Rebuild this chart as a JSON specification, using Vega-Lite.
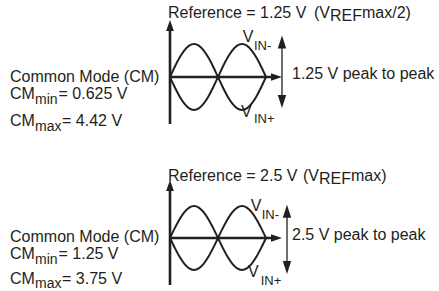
{
  "$schema": "https://vega.github.io/schema/vega-lite/v6.json",
  "padding": 0,
  "spacing": 0,
  "bounds": "flush",
  "config": {
    "view": {"stroke": null},
    "text": {"font": "Liberation Sans", "color": "#231f20", "align": "left", "baseline": "alphabetic"}
  },
  "datasets": {
    "curves": [
      {"panel": 1, "series": "VIN+", "t": 0.0, "v": 0},
      {"panel": 1, "series": "VIN+", "t": 0.1, "v": 0.309},
      {"panel": 1, "series": "VIN+", "t": 0.2, "v": 0.588},
      {"panel": 1, "series": "VIN+", "t": 0.3, "v": 0.809},
      {"panel": 1, "series": "VIN+", "t": 0.4, "v": 0.951},
      {"panel": 1, "series": "VIN+", "t": 0.5, "v": 1},
      {"panel": 1, "series": "VIN+", "t": 0.6, "v": 0.951},
      {"panel": 1, "series": "VIN+", "t": 0.7, "v": 0.809},
      {"panel": 1, "series": "VIN+", "t": 0.8, "v": 0.588},
      {"panel": 1, "series": "VIN+", "t": 0.9, "v": 0.309},
      {"panel": 1, "series": "VIN+", "t": 1.0, "v": 0},
      {"panel": 1, "series": "VIN+", "t": 1.1, "v": -0.309},
      {"panel": 1, "series": "VIN+", "t": 1.2, "v": -0.588},
      {"panel": 1, "series": "VIN+", "t": 1.3, "v": -0.809},
      {"panel": 1, "series": "VIN+", "t": 1.4, "v": -0.951},
      {"panel": 1, "series": "VIN+", "t": 1.5, "v": -1},
      {"panel": 1, "series": "VIN+", "t": 1.6, "v": -0.951},
      {"panel": 1, "series": "VIN+", "t": 1.7, "v": -0.809},
      {"panel": 1, "series": "VIN+", "t": 1.8, "v": -0.588},
      {"panel": 1, "series": "VIN+", "t": 1.9, "v": -0.309},
      {"panel": 1, "series": "VIN+", "t": 2.0, "v": 0},
      {"panel": 1, "series": "VIN-", "t": 0.0, "v": 0},
      {"panel": 1, "series": "VIN-", "t": 0.1, "v": -0.309},
      {"panel": 1, "series": "VIN-", "t": 0.2, "v": -0.588},
      {"panel": 1, "series": "VIN-", "t": 0.3, "v": -0.809},
      {"panel": 1, "series": "VIN-", "t": 0.4, "v": -0.951},
      {"panel": 1, "series": "VIN-", "t": 0.5, "v": -1},
      {"panel": 1, "series": "VIN-", "t": 0.6, "v": -0.951},
      {"panel": 1, "series": "VIN-", "t": 0.7, "v": -0.809},
      {"panel": 1, "series": "VIN-", "t": 0.8, "v": -0.588},
      {"panel": 1, "series": "VIN-", "t": 0.9, "v": -0.309},
      {"panel": 1, "series": "VIN-", "t": 1.0, "v": 0},
      {"panel": 1, "series": "VIN-", "t": 1.1, "v": 0.309},
      {"panel": 1, "series": "VIN-", "t": 1.2, "v": 0.588},
      {"panel": 1, "series": "VIN-", "t": 1.3, "v": 0.809},
      {"panel": 1, "series": "VIN-", "t": 1.4, "v": 0.951},
      {"panel": 1, "series": "VIN-", "t": 1.5, "v": 1},
      {"panel": 1, "series": "VIN-", "t": 1.6, "v": 0.951},
      {"panel": 1, "series": "VIN-", "t": 1.7, "v": 0.809},
      {"panel": 1, "series": "VIN-", "t": 1.8, "v": 0.588},
      {"panel": 1, "series": "VIN-", "t": 1.9, "v": 0.309},
      {"panel": 1, "series": "VIN-", "t": 2.0, "v": 0},
      {"panel": 2, "series": "VIN+", "t": 0.0, "v": 0},
      {"panel": 2, "series": "VIN+", "t": 0.1, "v": 0.309},
      {"panel": 2, "series": "VIN+", "t": 0.2, "v": 0.588},
      {"panel": 2, "series": "VIN+", "t": 0.3, "v": 0.809},
      {"panel": 2, "series": "VIN+", "t": 0.4, "v": 0.951},
      {"panel": 2, "series": "VIN+", "t": 0.5, "v": 1},
      {"panel": 2, "series": "VIN+", "t": 0.6, "v": 0.951},
      {"panel": 2, "series": "VIN+", "t": 0.7, "v": 0.809},
      {"panel": 2, "series": "VIN+", "t": 0.8, "v": 0.588},
      {"panel": 2, "series": "VIN+", "t": 0.9, "v": 0.309},
      {"panel": 2, "series": "VIN+", "t": 1.0, "v": 0},
      {"panel": 2, "series": "VIN+", "t": 1.1, "v": -0.309},
      {"panel": 2, "series": "VIN+", "t": 1.2, "v": -0.588},
      {"panel": 2, "series": "VIN+", "t": 1.3, "v": -0.809},
      {"panel": 2, "series": "VIN+", "t": 1.4, "v": -0.951},
      {"panel": 2, "series": "VIN+", "t": 1.5, "v": -1},
      {"panel": 2, "series": "VIN+", "t": 1.6, "v": -0.951},
      {"panel": 2, "series": "VIN+", "t": 1.7, "v": -0.809},
      {"panel": 2, "series": "VIN+", "t": 1.8, "v": -0.588},
      {"panel": 2, "series": "VIN+", "t": 1.9, "v": -0.309},
      {"panel": 2, "series": "VIN+", "t": 2.0, "v": 0},
      {"panel": 2, "series": "VIN-", "t": 0.0, "v": 0},
      {"panel": 2, "series": "VIN-", "t": 0.1, "v": -0.309},
      {"panel": 2, "series": "VIN-", "t": 0.2, "v": -0.588},
      {"panel": 2, "series": "VIN-", "t": 0.3, "v": -0.809},
      {"panel": 2, "series": "VIN-", "t": 0.4, "v": -0.951},
      {"panel": 2, "series": "VIN-", "t": 0.5, "v": -1},
      {"panel": 2, "series": "VIN-", "t": 0.6, "v": -0.951},
      {"panel": 2, "series": "VIN-", "t": 0.7, "v": -0.809},
      {"panel": 2, "series": "VIN-", "t": 0.8, "v": -0.588},
      {"panel": 2, "series": "VIN-", "t": 0.9, "v": -0.309},
      {"panel": 2, "series": "VIN-", "t": 1.0, "v": 0},
      {"panel": 2, "series": "VIN-", "t": 1.1, "v": 0.309},
      {"panel": 2, "series": "VIN-", "t": 1.2, "v": 0.588},
      {"panel": 2, "series": "VIN-", "t": 1.3, "v": 0.809},
      {"panel": 2, "series": "VIN-", "t": 1.4, "v": 0.951},
      {"panel": 2, "series": "VIN-", "t": 1.5, "v": 1},
      {"panel": 2, "series": "VIN-", "t": 1.6, "v": 0.951},
      {"panel": 2, "series": "VIN-", "t": 1.7, "v": 0.809},
      {"panel": 2, "series": "VIN-", "t": 1.8, "v": 0.588},
      {"panel": 2, "series": "VIN-", "t": 1.9, "v": 0.309},
      {"panel": 2, "series": "VIN-", "t": 2.0, "v": 0}
    ],
    "segments": [
      {"panel": 1, "kind": "axis", "x": 0, "y": -1.424, "x2": 0, "y2": 1.561},
      {"panel": 1, "kind": "axis", "x": 0, "y": 0, "x2": 2.219, "y2": 0},
      {"panel": 1, "kind": "span", "x": 2.333, "y": -0.742, "x2": 2.333, "y2": 1.061},
      {"panel": 2, "kind": "axis", "x": 0, "y": -1.469, "x2": 0, "y2": 1.641},
      {"panel": 2, "kind": "axis", "x": 0, "y": 0, "x2": 2.219, "y2": 0},
      {"panel": 2, "kind": "span", "x": 2.4375, "y": -0.922, "x2": 2.4375, "y2": 0.8375}
    ],
    "heads": [
      {"panel": 1, "kind": "axis", "x": 0, "y": 1.561, "dir": 0},
      {"panel": 1, "kind": "axis", "x": 2.219, "y": 0, "dir": 90},
      {"panel": 1, "kind": "span", "x": 2.333, "y": 1.061, "dir": 0},
      {"panel": 1, "kind": "span", "x": 2.333, "y": -0.742, "dir": 180},
      {"panel": 2, "kind": "axis", "x": 0, "y": 1.641, "dir": 0},
      {"panel": 2, "kind": "axis", "x": 2.219, "y": 0, "dir": 90},
      {"panel": 2, "kind": "span", "x": 2.4375, "y": 0.8375, "dir": 0},
      {"panel": 2, "kind": "span", "x": 2.4375, "y": -0.922, "dir": 180}
    ],
    "labels": [
      {"panel": 1, "role": "main", "x": -0.042, "y": 1.797, "text": "Reference = 1.25 V"},
      {"panel": 1, "role": "main", "x": 3.0, "y": 1.797, "text": "(V"},
      {"panel": 1, "role": "main", "x": 3.333, "y": 1.706, "text": "REF"},
      {"panel": 1, "role": "main", "x": 4.0, "y": 1.797, "text": "max/2)"},
      {"panel": 1, "role": "main", "x": -3.333, "y": -0.161, "text": "Common Mode (CM)"},
      {"panel": 1, "role": "main", "x": -3.333, "y": -0.676, "text": "CM"},
      {"panel": 1, "role": "main", "x": -2.323, "y": -0.676, "text": "= 0.625 V"},
      {"panel": 1, "role": "main", "x": -3.333, "y": -1.476, "text": "CM"},
      {"panel": 1, "role": "main", "x": -2.25, "y": -1.476, "text": "= 4.42 V"},
      {"panel": 1, "role": "main", "x": 2.542, "y": -0.061, "text": "1.25 V peak to peak"},
      {"panel": 1, "role": "main", "x": 1.515, "y": 1.061, "text": "V"},
      {"panel": 1, "role": "main", "x": 1.479, "y": -1.227, "text": "V"},
      {"panel": 1, "role": "sub", "x": -2.8125, "y": -0.818, "text": "min"},
      {"panel": 1, "role": "sub", "x": -2.8125, "y": -1.627, "text": "max"},
      {"panel": 1, "role": "insub", "x": 1.75, "y": 0.818, "text": "IN-"},
      {"panel": 1, "role": "insub", "x": 1.75, "y": -1.409, "text": "IN+"},
      {"panel": 2, "role": "main", "x": -0.042, "y": 1.781, "text": "Reference = 2.5 V"},
      {"panel": 2, "role": "main", "x": 2.771, "y": 1.781, "text": "(V"},
      {"panel": 2, "role": "main", "x": 3.104, "y": 1.6875, "text": "REF"},
      {"panel": 2, "role": "main", "x": 3.771, "y": 1.781, "text": "max)"},
      {"panel": 2, "role": "main", "x": -3.333, "y": -0.134, "text": "Common Mode (CM)"},
      {"panel": 2, "role": "main", "x": -3.333, "y": -0.666, "text": "CM"},
      {"panel": 2, "role": "main", "x": -2.323, "y": -0.666, "text": "= 1.25 V"},
      {"panel": 2, "role": "main", "x": -3.333, "y": -1.4375, "text": "CM"},
      {"panel": 2, "role": "main", "x": -2.25, "y": -1.4375, "text": "= 3.75 V"},
      {"panel": 2, "role": "main", "x": 2.542, "y": -0.0625, "text": "2.5 V peak to peak"},
      {"panel": 2, "role": "main", "x": 1.681, "y": 0.844, "text": "V"},
      {"panel": 2, "role": "main", "x": 1.625, "y": -1.219, "text": "V"},
      {"panel": 2, "role": "sub", "x": -2.8125, "y": -0.822, "text": "min"},
      {"panel": 2, "role": "sub", "x": -2.8125, "y": -1.5625, "text": "max"},
      {"panel": 2, "role": "insub", "x": 1.91, "y": 0.594, "text": "IN-"},
      {"panel": 2, "role": "insub", "x": 1.89, "y": -1.459, "text": "IN+"}
    ]
  },
  "vconcat": [
    {
      "width": 439,
      "height": 145,
      "layer": [
        {
          "data": {"name": "curves"},
          "transform": [{"filter": "datum.panel === 1"}],
          "mark": {"type": "line", "interpolate": "monotone", "strokeWidth": 2, "color": "#231f20"},
          "encoding": {
            "x": {"field": "t", "type": "quantitative", "axis": null, "scale": {"domain": [-3.5417, 5.6042], "nice": false, "zero": false}},
            "y": {"field": "v", "type": "quantitative", "axis": null, "scale": {"domain": [-2.0606, 2.3333], "nice": false, "zero": false}},
            "detail": {"field": "series"}
          }
        },
        {
          "data": {"name": "segments"},
          "transform": [{"filter": "datum.panel === 1 && datum.kind === 'axis'"}],
          "mark": {"type": "rule", "strokeWidth": 2.6, "color": "#231f20"},
          "encoding": {
            "x": {"field": "x", "type": "quantitative"},
            "y": {"field": "y", "type": "quantitative"},
            "x2": {"field": "x2"},
            "y2": {"field": "y2"}
          }
        },
        {
          "data": {"name": "segments"},
          "transform": [{"filter": "datum.panel === 1 && datum.kind === 'span'"}],
          "mark": {"type": "rule", "strokeWidth": 1.3, "color": "#231f20"},
          "encoding": {
            "x": {"field": "x", "type": "quantitative"},
            "y": {"field": "y", "type": "quantitative"},
            "x2": {"field": "x2"},
            "y2": {"field": "y2"}
          }
        },
        {
          "data": {"name": "heads"},
          "transform": [{"filter": "datum.panel === 1 && datum.kind === 'axis'"}],
          "mark": {"type": "point", "shape": "M0,-1L0.7,1L-0.7,1Z", "filled": true, "size": 121, "color": "#231f20", "opacity": 1},
          "encoding": {
            "x": {"field": "x", "type": "quantitative"},
            "y": {"field": "y", "type": "quantitative"},
            "angle": {"field": "dir", "type": "quantitative", "scale": null}
          }
        },
        {
          "data": {"name": "heads"},
          "transform": [{"filter": "datum.panel === 1 && datum.kind === 'span'"}],
          "mark": {"type": "point", "shape": "M0,-1L0.65,1L-0.65,1Z", "filled": true, "size": 169, "color": "#231f20", "opacity": 1},
          "encoding": {
            "x": {"field": "x", "type": "quantitative"},
            "y": {"field": "y", "type": "quantitative"},
            "angle": {"field": "dir", "type": "quantitative", "scale": null}
          }
        },
        {
          "data": {"name": "labels"},
          "transform": [{"filter": "datum.panel === 1 && datum.role === 'main'"}],
          "mark": {"type": "text", "fontSize": 16},
          "encoding": {
            "x": {"field": "x", "type": "quantitative"},
            "y": {"field": "y", "type": "quantitative"},
            "text": {"field": "text"}
          }
        },
        {
          "data": {"name": "labels"},
          "transform": [{"filter": "datum.panel === 1 && datum.role === 'sub'"}],
          "mark": {"type": "text", "fontSize": 14},
          "encoding": {
            "x": {"field": "x", "type": "quantitative"},
            "y": {"field": "y", "type": "quantitative"},
            "text": {"field": "text"}
          }
        },
        {
          "data": {"name": "labels"},
          "transform": [{"filter": "datum.panel === 1 && datum.role === 'insub'"}],
          "mark": {"type": "text", "fontSize": 13},
          "encoding": {
            "x": {"field": "x", "type": "quantitative"},
            "y": {"field": "y", "type": "quantitative"},
            "text": {"field": "text"}
          }
        }
      ]
    },
    {
      "width": 439,
      "height": 146,
      "layer": [
        {
          "data": {"name": "curves"},
          "transform": [{"filter": "datum.panel === 2"}],
          "mark": {"type": "line", "interpolate": "monotone", "strokeWidth": 2, "color": "#231f20"},
          "encoding": {
            "x": {"field": "t", "type": "quantitative", "axis": null, "scale": {"domain": [-3.5417, 5.6042], "nice": false, "zero": false}},
            "y": {"field": "v", "type": "quantitative", "axis": null, "scale": {"domain": [-1.65625, 2.90625], "nice": false, "zero": false}},
            "detail": {"field": "series"}
          }
        },
        {
          "data": {"name": "segments"},
          "transform": [{"filter": "datum.panel === 2 && datum.kind === 'axis'"}],
          "mark": {"type": "rule", "strokeWidth": 2.6, "color": "#231f20"},
          "encoding": {
            "x": {"field": "x", "type": "quantitative"},
            "y": {"field": "y", "type": "quantitative"},
            "x2": {"field": "x2"},
            "y2": {"field": "y2"}
          }
        },
        {
          "data": {"name": "segments"},
          "transform": [{"filter": "datum.panel === 2 && datum.kind === 'span'"}],
          "mark": {"type": "rule", "strokeWidth": 1.3, "color": "#231f20"},
          "encoding": {
            "x": {"field": "x", "type": "quantitative"},
            "y": {"field": "y", "type": "quantitative"},
            "x2": {"field": "x2"},
            "y2": {"field": "y2"}
          }
        },
        {
          "data": {"name": "heads"},
          "transform": [{"filter": "datum.panel === 2 && datum.kind === 'axis'"}],
          "mark": {"type": "point", "shape": "M0,-1L0.7,1L-0.7,1Z", "filled": true, "size": 121, "color": "#231f20", "opacity": 1},
          "encoding": {
            "x": {"field": "x", "type": "quantitative"},
            "y": {"field": "y", "type": "quantitative"},
            "angle": {"field": "dir", "type": "quantitative", "scale": null}
          }
        },
        {
          "data": {"name": "heads"},
          "transform": [{"filter": "datum.panel === 2 && datum.kind === 'span'"}],
          "mark": {"type": "point", "shape": "M0,-1L0.65,1L-0.65,1Z", "filled": true, "size": 169, "color": "#231f20", "opacity": 1},
          "encoding": {
            "x": {"field": "x", "type": "quantitative"},
            "y": {"field": "y", "type": "quantitative"},
            "angle": {"field": "dir", "type": "quantitative", "scale": null}
          }
        },
        {
          "data": {"name": "labels"},
          "transform": [{"filter": "datum.panel === 2 && datum.role === 'main'"}],
          "mark": {"type": "text", "fontSize": 16},
          "encoding": {
            "x": {"field": "x", "type": "quantitative"},
            "y": {"field": "y", "type": "quantitative"},
            "text": {"field": "text"}
          }
        },
        {
          "data": {"name": "labels"},
          "transform": [{"filter": "datum.panel === 2 && datum.role === 'sub'"}],
          "mark": {"type": "text", "fontSize": 14},
          "encoding": {
            "x": {"field": "x", "type": "quantitative"},
            "y": {"field": "y", "type": "quantitative"},
            "text": {"field": "text"}
          }
        },
        {
          "data": {"name": "labels"},
          "transform": [{"filter": "datum.panel === 2 && datum.role === 'insub'"}],
          "mark": {"type": "text", "fontSize": 13},
          "encoding": {
            "x": {"field": "x", "type": "quantitative"},
            "y": {"field": "y", "type": "quantitative"},
            "text": {"field": "text"}
          }
        }
      ]
    }
  ]
}
